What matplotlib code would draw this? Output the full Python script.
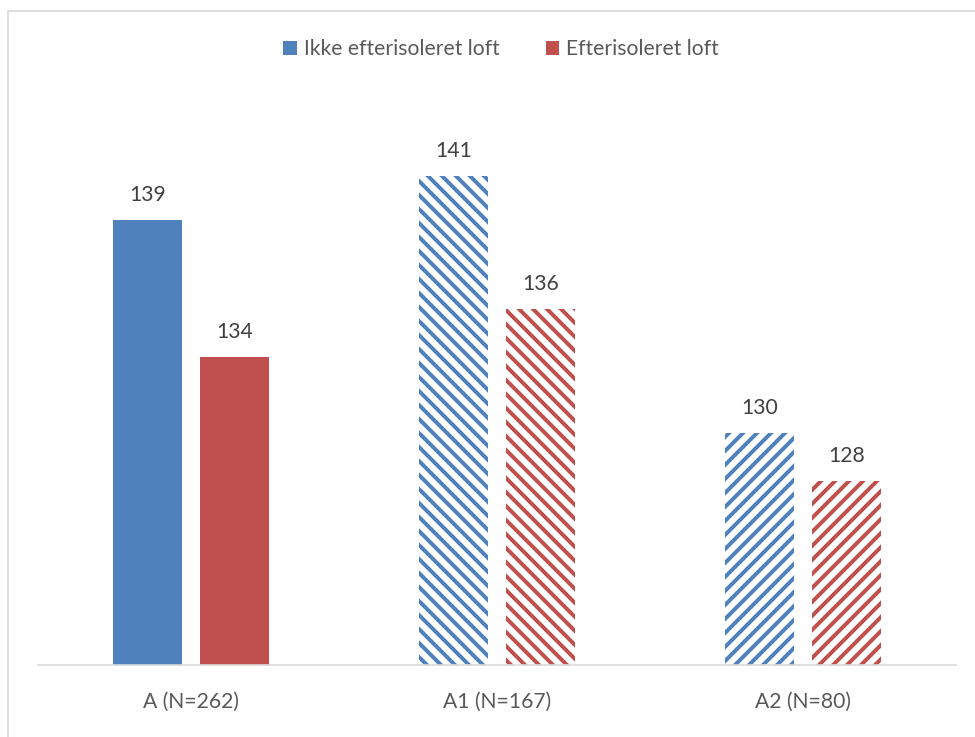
import matplotlib
matplotlib.use("Agg")
import matplotlib.pyplot as plt
from matplotlib.patches import Patch, Rectangle
import numpy as np

DPI = 84
S = 100 / DPI  # point scaling so sizes match a 100-dpi layout

plt.rcParams['font.family'] = ['Lato', 'DejaVu Sans']
plt.rcParams['hatch.linewidth'] = 3.4

categories = ["A (N=262)", "A1 (N=167)", "A2 (N=80)"]
series_names = ["Ikke efterisoleret loft", "Efterisoleret loft"]
ikke_values = [139.39, 141.26, 130.32]
efter_values = [133.56, 135.60, 128.28]
hatches = [None, "\\\\", "//"]

blue = "#4F81BD"
red = "#C0504D"
text_col = "#595959"
grid_col = "#D9D9D9"
FS = 15.2 * S

W, H = 975, 737
fig = plt.figure(figsize=(W / DPI, H / DPI), dpi=DPI)
ax = fig.add_axes([38 / W, (H - 665) / H, (956 - 38) / W, (665 - 78) / H])

x = np.arange(len(categories))
width = 69 / 306
off = 43.5 / 306

for i in range(len(categories)):
    for vals, col, sign in ((ikke_values, blue, -1), (efter_values, red, 1)):
        h = hatches[i]
        if h is None:
            ax.bar(x[i] + sign * off, vals[i], width=width, color=col, linewidth=0)
        else:
            ax.bar(x[i] + sign * off, vals[i], width=width, facecolor="white",
                   edgecolor=col, hatch=h, linewidth=0)
        ax.text(x[i] + sign * off, vals[i] + 0.65, f"{round(vals[i])}",
                ha="center", va="bottom", fontsize=FS, color="#404040")

ax.set_xlim(-0.5, 2.5)
ax.set_ylim(120.45, 145.43)
ax.set_xticks(x)
ax.set_xticklabels(categories, fontsize=FS, color=text_col)
ax.tick_params(axis="x", length=0, pad=19 * S)
ax.set_yticks([])
for s in ("top", "right", "left"):
    ax.spines[s].set_visible(False)
ax.spines["bottom"].set_color(grid_col)
ax.spines["bottom"].set_linewidth(1.2 * S)

handles = [Patch(facecolor=blue, edgecolor="none"), Patch(facecolor=red, edgecolor="none")]
fig.legend(handles, series_names, loc="center", bbox_to_anchor=(501 / W, 1 - 49 / H),
           ncol=2, frameon=False, fontsize=FS, labelcolor=text_col,
           handlelength=0.65, handleheight=0.65, handletextpad=0.3, columnspacing=2.2)

fig.patches.append(Rectangle((8 / W, -0.1), 1.2, 1.1 - 11 / H, transform=fig.transFigure,
                             fill=False, edgecolor=grid_col, linewidth=1.2 * S))

fig.savefig("out.png", dpi=DPI)
